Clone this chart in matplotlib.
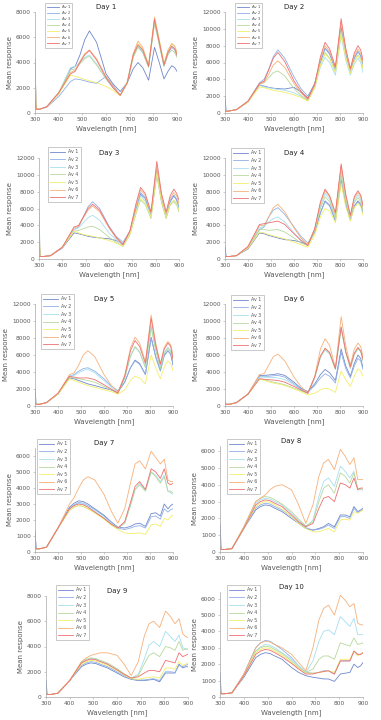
import matplotlib
matplotlib.use("Agg")
import matplotlib.pyplot as plt

W = [300, 305, 320, 350, 400, 450, 470, 490, 510, 530, 560, 600, 630, 660, 690, 715, 735, 755, 780, 805, 825, 845, 862, 878, 890, 900]
labels = ["Av 1", "Av 2", "Av 3", "Av 4", "Av 5", "Av 6", "Av 7"]
colors = ['#6f87cc', '#8fb0e6', '#a6dff0', '#b6d89c', '#f2ee6a', '#f6b07a', '#ee7070']

day1 = [
    [300, 300, 300, 500, 1500, 3500, 3700, 4600, 5800, 6500, 5600, 3100, 2300, 1700, 2400, 3500, 4000, 3600, 2600, 5200, 4000, 2700, 3300, 3750, 3600, 3300],
    [4300, 300, 300, 450, 1300, 2500, 2700, 2650, 2550, 2450, 2350, 2900, 2200, 1400, 2500, 4500, 5300, 4800, 3700, 7200, 5500, 3700, 4700, 5200, 5000, 4500],
    [4000, 300, 300, 500, 1600, 3600, 3700, 4000, 4400, 4600, 3900, 2700, 2000, 1400, 2400, 4500, 5300, 4900, 3700, 7300, 5600, 3800, 4800, 5300, 5100, 4600],
    [3800, 300, 300, 500, 1600, 3400, 3500, 3900, 4300, 4500, 3800, 2700, 2000, 1400, 2400, 4400, 5200, 4800, 3600, 7100, 5400, 3700, 4600, 5000, 4800, 4400],
    [300, 300, 300, 500, 1500, 3000, 2900, 2800, 2650, 2550, 2400, 2100, 1800, 1350, 2500, 4600, 5500, 5100, 3800, 7500, 5800, 3900, 4900, 5500, 5300, 4800],
    [4300, 300, 300, 500, 1600, 3200, 3400, 4100, 4700, 5000, 4300, 2900, 2100, 1400, 2400, 4700, 5700, 5200, 3800, 7600, 5800, 3900, 5000, 5500, 5300, 4800],
    [1000, 300, 300, 500, 1600, 3100, 3300, 4000, 4600, 4950, 4200, 2800, 2000, 1400, 2400, 4600, 5400, 5000, 3700, 7400, 5600, 3800, 4800, 5300, 5100, 4600],
]
day2 = [
    [2000, 200, 250, 400, 1300, 3300, 3200, 3050, 2950, 2900, 2850, 3050, 2500, 1800, 3500, 6000, 7700, 7000, 5200, 10200, 7000, 5000, 6500, 7300, 6800, 5800],
    [300, 200, 250, 400, 1400, 3600, 4000, 5200, 6700, 7500, 6500, 4300, 2900, 2000, 3500, 6200, 7700, 7100, 5200, 10000, 7000, 5000, 6600, 7300, 6800, 5700],
    [300, 200, 250, 400, 1400, 3300, 3100, 3000, 2900, 2800, 2700, 2400, 2000, 1500, 3000, 5500, 6600, 6000, 4500, 9200, 6300, 4500, 5800, 6500, 6000, 4800],
    [300, 200, 250, 400, 1400, 3400, 3600, 4200, 4800, 5000, 4400, 2900, 2100, 1500, 3000, 5800, 7200, 6500, 4900, 9700, 6700, 4800, 6200, 6900, 6400, 5400],
    [300, 200, 250, 400, 1300, 3100, 3000, 2850, 2700, 2600, 2450, 2150, 1850, 1400, 3000, 5700, 7000, 6400, 4800, 9500, 6600, 4700, 6100, 6800, 6300, 5300],
    [300, 200, 250, 400, 1400, 3400, 3700, 4600, 5700, 6200, 5400, 3500, 2400, 1600, 3300, 6400, 8000, 7300, 5300, 10800, 7400, 5100, 6800, 7600, 7100, 6000],
    [300, 200, 250, 400, 1400, 3500, 3800, 5100, 6500, 7200, 6100, 3800, 2600, 1700, 3400, 6700, 8400, 7600, 5500, 11200, 7700, 5300, 7100, 8000, 7500, 6300],
]
day3 = [
    [2000, 300, 300, 400, 1300, 3100, 3000, 2850, 2700, 2600, 2500, 2400, 2200, 1800, 3200, 5800, 7700, 7200, 5200, 10500, 7000, 5000, 6800, 7500, 7000, 6000],
    [300, 300, 300, 400, 1400, 3500, 3800, 5000, 6200, 6800, 6000, 3900, 2700, 2000, 3300, 5900, 7900, 7300, 5300, 10700, 7200, 5200, 7000, 7600, 7100, 6100],
    [6000, 300, 300, 400, 1400, 3500, 3700, 4300, 4900, 5200, 4600, 3100, 2300, 1600, 3000, 5500, 7500, 6900, 5000, 10000, 6800, 4900, 6500, 7000, 6600, 5700],
    [3000, 300, 300, 400, 1400, 3300, 3400, 3600, 3800, 3900, 3500, 2600, 2000, 1500, 2900, 5300, 7000, 6500, 4800, 10000, 6700, 4800, 6400, 6800, 6400, 5600],
    [300, 300, 300, 400, 1400, 3300, 3100, 2900, 2800, 2700, 2500, 2200, 1900, 1500, 3000, 5500, 7200, 6700, 5000, 10300, 6900, 5000, 6500, 7000, 6600, 5800],
    [4500, 300, 300, 400, 1400, 3700, 3900, 4900, 5800, 6300, 5600, 3700, 2500, 1700, 3300, 6200, 8200, 7600, 5400, 11000, 7500, 5400, 7200, 7900, 7500, 6600],
    [300, 300, 300, 400, 1400, 3800, 4000, 5000, 6000, 6500, 5800, 3800, 2600, 1700, 3400, 6500, 8500, 7800, 5600, 11600, 7800, 5600, 7500, 8300, 7800, 7000],
]
day4 = [
    [1500, 300, 300, 400, 1200, 3100, 3000, 2800, 2650, 2500, 2300, 2200, 2000, 1700, 3200, 5500, 6900, 6400, 4600, 9300, 6500, 4700, 6300, 6900, 6500, 5600],
    [300, 300, 300, 400, 1300, 3500, 3800, 5000, 5800, 6100, 5300, 3800, 2700, 1900, 3200, 5500, 6800, 6300, 4500, 9500, 6500, 4600, 6200, 6800, 6400, 5500],
    [300, 300, 300, 400, 1400, 3700, 3900, 4400, 4800, 5000, 4400, 3100, 2300, 1700, 3500, 6300, 7800, 7100, 5000, 10500, 7200, 5000, 6900, 7600, 7100, 6000],
    [300, 300, 300, 400, 1400, 3500, 3500, 3400, 3450, 3500, 3200, 2500, 1900, 1600, 3300, 6000, 7400, 6800, 4800, 10000, 6900, 4900, 6700, 7300, 6800, 5800],
    [300, 300, 300, 400, 1300, 3200, 3100, 2900, 2750, 2600, 2400, 2000, 1700, 1400, 2800, 5000, 6000, 5700, 4300, 9000, 6200, 4500, 6100, 6600, 6200, 5200],
    [300, 300, 300, 400, 1400, 4000, 4000, 5000, 6100, 6500, 5600, 3700, 2500, 1700, 3600, 6600, 8100, 7400, 5300, 11000, 7500, 5100, 7200, 7900, 7400, 6200],
    [300, 300, 300, 400, 1500, 4100, 4200, 4300, 4400, 4500, 4100, 3000, 2200, 1600, 3600, 6800, 8300, 7500, 5500, 11300, 7700, 5200, 7400, 8100, 7600, 6400],
]
day5 = [
    [2000, 200, 200, 400, 1400, 3300, 3200, 3000, 2800, 2600, 2400, 2100, 1900, 1600, 2800, 4500, 5400, 5000, 3700, 8100, 5800, 4200, 6000, 6500, 6100, 4800],
    [300, 200, 200, 400, 1400, 3500, 3700, 4100, 4400, 4500, 4100, 3200, 2400, 1800, 2800, 4500, 5300, 4900, 3700, 8000, 5700, 4100, 5900, 6500, 6100, 5000],
    [300, 200, 200, 400, 1400, 3500, 3600, 3900, 4200, 4300, 3900, 3000, 2200, 1600, 3300, 5800, 6900, 6300, 4600, 9500, 6700, 4600, 6300, 6900, 6500, 5600],
    [300, 200, 200, 400, 1400, 3400, 3300, 3200, 3100, 3000, 2800, 2300, 1900, 1500, 3300, 5900, 7000, 6400, 4500, 9200, 6500, 4400, 6200, 6800, 6400, 5500],
    [300, 200, 200, 400, 1400, 3200, 3000, 2800, 2600, 2400, 2200, 1900, 1700, 1400, 1900, 3000, 3500, 3300, 2600, 6000, 4500, 3200, 4600, 5300, 5000, 4200],
    [300, 200, 200, 400, 1500, 3700, 3900, 4800, 6000, 6500, 5800, 3700, 2500, 1600, 3600, 6800, 8100, 7400, 5200, 10700, 7400, 5000, 6900, 7600, 7200, 6000],
    [300, 200, 200, 400, 1500, 3500, 3400, 3300, 3300, 3300, 3100, 2500, 2000, 1500, 3500, 6500, 7700, 7000, 5000, 10300, 7100, 4900, 6700, 7400, 7000, 5500],
]
day6 = [
    [500, 200, 200, 400, 1400, 3600, 3600, 3650, 3700, 3800, 3600, 2800, 2100, 1700, 2600, 3700, 4300, 3900, 3000, 6700, 4700, 3500, 5000, 6000, 5600, 4500],
    [300, 200, 200, 400, 1400, 3500, 3500, 3500, 3550, 3600, 3400, 2600, 2000, 1600, 2400, 3300, 3800, 3500, 2700, 6300, 4400, 3300, 4700, 5600, 5300, 4300],
    [300, 200, 200, 400, 1400, 3400, 3400, 3350, 3350, 3300, 3100, 2500, 1900, 1500, 3300, 5700, 6600, 6100, 4300, 9100, 6300, 4400, 6000, 6700, 6400, 5300],
    [300, 200, 200, 400, 1400, 3200, 3100, 2950, 2800, 2700, 2500, 2100, 1800, 1500, 3300, 5800, 6700, 6200, 4300, 9200, 6300, 4500, 6100, 6800, 6400, 5400],
    [300, 200, 200, 400, 1400, 3200, 3000, 2850, 2700, 2600, 2400, 2000, 1700, 1300, 1500, 1900, 2100, 2000, 1600, 4100, 3100, 2300, 3500, 4400, 4100, 3500],
    [300, 200, 200, 400, 1400, 3700, 3800, 4800, 5800, 6100, 5300, 3400, 2300, 1500, 3500, 6700, 7900, 7100, 4500, 10500, 7100, 4800, 6700, 7400, 7000, 5800],
    [300, 200, 200, 400, 1400, 3200, 3150, 3100, 3050, 3000, 2800, 2300, 1900, 1500, 3400, 5900, 6800, 6300, 4400, 9300, 6400, 4600, 6200, 6900, 6500, 5500],
]
day7 = [
    [1300, 200, 200, 300, 1500, 2800, 3050, 3200, 3150, 3000, 2700, 2300, 1900, 1550, 1500, 1600, 1750, 1800, 1600, 2400, 2450, 2250, 3000, 2700, 2900, 3000],
    [1300, 200, 200, 300, 1500, 2700, 2950, 3100, 3050, 2900, 2650, 2250, 1850, 1500, 1400, 1500, 1600, 1650, 1500, 2200, 2250, 2050, 2700, 2500, 2650, 2700],
    [300, 200, 200, 300, 1500, 2700, 2900, 3050, 3000, 2850, 2550, 2150, 1800, 1500, 1800, 2900, 3900, 4300, 3900, 5000, 4800, 4400, 4800, 3800, 3700, 3600],
    [300, 200, 200, 300, 1500, 2600, 2800, 2900, 2850, 2700, 2450, 2100, 1750, 1500, 1800, 2900, 3900, 4200, 3800, 5000, 4700, 4300, 4700, 3800, 3800, 3700],
    [300, 200, 200, 300, 1500, 2600, 2800, 2900, 2850, 2700, 2450, 2050, 1700, 1400, 1200, 1150, 1150, 1200, 1100, 1700, 1750, 1600, 2100, 2000, 2200, 2300],
    [300, 200, 200, 300, 1500, 3000, 3400, 4000, 4500, 4700, 4500, 3600, 2600, 1800, 2700, 4300, 5500, 5700, 5200, 6300, 5900, 5500, 5800, 4500, 4400, 4400],
    [300, 200, 200, 300, 1500, 2700, 2900, 3000, 2950, 2800, 2500, 2100, 1750, 1500, 1900, 3100, 4100, 4400, 3900, 5200, 5000, 4600, 5200, 4300, 4200, 4300],
]
day8 = [
    [1700, 150, 150, 200, 1400, 2500, 2700, 2800, 2750, 2600, 2400, 2000, 1700, 1400, 1300, 1400, 1500, 1700, 1500, 2200, 2200, 2100, 2700, 2400, 2500, 2600],
    [300, 150, 150, 200, 1400, 2600, 2800, 2900, 2850, 2700, 2500, 2100, 1750, 1450, 1300, 1350, 1450, 1600, 1400, 2100, 2100, 2000, 2600, 2350, 2450, 2500],
    [300, 150, 150, 200, 1400, 2900, 3100, 3200, 3150, 3000, 2800, 2300, 1900, 1500, 1900, 3300, 4200, 4400, 3900, 5100, 4800, 4400, 4800, 3700, 3700, 3700],
    [300, 150, 150, 200, 1500, 3000, 3200, 3300, 3250, 3100, 2850, 2400, 1950, 1550, 1800, 3000, 3800, 4000, 3500, 4700, 4500, 4100, 4700, 3800, 3750, 3700],
    [300, 150, 150, 200, 1400, 2700, 2900, 3000, 2950, 2800, 2550, 2100, 1700, 1400, 1200, 1200, 1300, 1400, 1200, 1900, 1950, 1900, 2400, 2300, 2400, 2500],
    [300, 150, 150, 200, 1500, 3000, 3200, 3400, 3700, 3900, 4000, 3700, 2800, 1700, 2800, 4500, 5300, 5500, 4900, 6100, 5700, 5200, 5600, 4300, 4300, 4300],
    [300, 150, 150, 200, 1400, 2800, 3000, 3100, 3050, 2900, 2700, 2200, 1800, 1500, 1700, 2600, 3200, 3300, 3000, 4100, 4000, 3800, 4400, 3700, 3800, 3800],
]
day9 = [
    [1300, 200, 200, 300, 1300, 2400, 2600, 2700, 2650, 2500, 2300, 1900, 1600, 1400, 1300, 1300, 1350, 1400, 1200, 1900, 1900, 1900, 2600, 2300, 2400, 2400],
    [300, 200, 200, 300, 1300, 2500, 2700, 2800, 2750, 2600, 2400, 2000, 1700, 1450, 1350, 1350, 1400, 1450, 1300, 2000, 2000, 1950, 2500, 2400, 2500, 2600],
    [300, 200, 200, 300, 1300, 2700, 2900, 3050, 3000, 2850, 2600, 2200, 1800, 1500, 1800, 3000, 4100, 4400, 4000, 5200, 4800, 4400, 4900, 3900, 3800, 3800],
    [300, 200, 200, 300, 1300, 2800, 3000, 3100, 3050, 2900, 2700, 2250, 1850, 1500, 1700, 2600, 3300, 3500, 3200, 4000, 3900, 3700, 4400, 3700, 3800, 3800],
    [300, 200, 200, 300, 1300, 2600, 2800, 2900, 2850, 2700, 2500, 2100, 1750, 1450, 1400, 1500, 1550, 1600, 1500, 2300, 2300, 2200, 2800, 2500, 2600, 2700],
    [300, 200, 200, 300, 1300, 2800, 3100, 3300, 3400, 3500, 3500, 3300, 2600, 1700, 2800, 4800, 5800, 6000, 5500, 6800, 6400, 5800, 6200, 5000, 4800, 4700],
    [300, 200, 200, 300, 1300, 2700, 2900, 3000, 2950, 2800, 2600, 2150, 1800, 1500, 1600, 1900, 2100, 2100, 2000, 2900, 2800, 2700, 3500, 3200, 3300, 3400],
]
day10 = [
    [1500, 200, 200, 250, 1200, 2400, 2600, 2700, 2650, 2500, 2300, 1800, 1500, 1300, 1200, 1150, 1100, 1100, 950, 1400, 1450, 1500, 2000, 1800, 1900, 2100],
    [300, 200, 200, 250, 1400, 3000, 3300, 3450, 3400, 3200, 2900, 2400, 1900, 1500, 1450, 1500, 1600, 1600, 1400, 2200, 2200, 2200, 2800, 2600, 2600, 2700],
    [300, 200, 200, 250, 1300, 2800, 3050, 3200, 3150, 3000, 2700, 2300, 1900, 1500, 2200, 3400, 4000, 4100, 3800, 4900, 4600, 4300, 4800, 3800, 3800, 3800],
    [300, 200, 200, 250, 1300, 2800, 3000, 3100, 3050, 2900, 2650, 2200, 1800, 1500, 1700, 2300, 2500, 2500, 2300, 3300, 3200, 3100, 3600, 3200, 3250, 3300],
    [300, 200, 200, 250, 1300, 2700, 2900, 3000, 2950, 2800, 2550, 2100, 1750, 1450, 1450, 1500, 1550, 1600, 1500, 2300, 2300, 2300, 2800, 2500, 2600, 2700],
    [300, 200, 200, 250, 1400, 3000, 3300, 3400, 3350, 3200, 3000, 2600, 2100, 1600, 3000, 4700, 5400, 5600, 5000, 6200, 5900, 5500, 5700, 4500, 4400, 4400],
    [300, 200, 200, 250, 1300, 2600, 2800, 2900, 2850, 2700, 2450, 2050, 1700, 1400, 1400, 1500, 1550, 1600, 1400, 2200, 2200, 2200, 2800, 2600, 2600, 2700],
]

days = [day1, day2, day3, day4, day5, day6, day7, day8, day9, day10]
titles = ["Day %d" % i for i in range(1, 11)]
yticks_list = [
    [0, 2000, 4000, 6000, 8000],
    [0, 2000, 4000, 6000, 8000, 10000, 12000],
    [0, 2000, 4000, 6000, 8000, 10000, 12000],
    [0, 2000, 4000, 6000, 8000, 10000, 12000],
    [0, 2000, 4000, 6000, 8000, 10000, 12000],
    [0, 2000, 4000, 6000, 8000, 10000, 12000],
    [0, 1000, 2000, 3000, 4000, 5000, 6000],
    [0, 1000, 2000, 3000, 4000, 5000, 6000],
    [0, 2000, 4000, 6000, 8000],
    [0, 1000, 2000, 3000, 4000, 5000, 6000],
]
xticks = [300, 400, 500, 600, 700, 800, 900]

FW, FH = 381, 720
fig = plt.figure(figsize=(FW / 100, FH / 100), dpi=100)

# axes boxes in pixels: left, right, top, bottom, ymax
boxes = [
    (35, 177, 12, 113, 8000),
    (225, 363, 12, 113, 12000),
    (39, 179, 158, 259, 12000),
    (225, 363, 158, 259, 12000),
    (35, 173, 304, 406, 12000),
    (225, 363, 304, 406, 12000),
    (35, 173, 448, 552, 6500),
    (220, 363, 446, 552, 6300),
    (46, 188, 596, 697, 8000),
    (220, 363, 592, 697, 6400),
]
# legend upper-left corner in pixels, and font size
legs = [
    (45, 3, 2.8), (235, 3, 2.8), (48, 147, 3.4), (231, 148, 3.4), (41, 294, 3.4),
    (231, 295, 3.4), (37, 439, 3.4), (227, 439, 3.4), (56, 585, 3.4), (227, 585, 3.4),
]

gray = '#595959'
spine = '#a6a6a6'
for i, data in enumerate(days):
    l, r, t, b, ymax = boxes[i]
    ax = fig.add_axes([l / FW, 1 - b / FH, (r - l) / FW, (b - t) / FH])
    for j, series in enumerate(data):
        ax.plot(W, series, color=colors[j], lw=0.6, label=labels[j])
    ax.set_xlim(300, 900)
    ax.set_ylim(0, ymax)
    ax.set_xticks(xticks)
    ax.set_yticks(yticks_list[i])
    for s in ['top', 'right']:
        ax.spines[s].set_visible(False)
    for s in ['left', 'bottom']:
        ax.spines[s].set_color(spine)
        ax.spines[s].set_linewidth(0.5)
    ax.tick_params(axis='both', labelsize=4.2, colors=spine, labelcolor=gray,
                   length=1.5, width=0.4, pad=1.5)
    ax.set_xlabel("Wavelength [nm]", fontsize=5, color=gray, labelpad=2)
    ax.set_ylabel("Mean response", fontsize=5, color=gray, labelpad=2)
    ax.set_title(titles[i], fontsize=5, color='#222222', pad=2)
    lx, ly, fs = legs[i]
    leg = ax.legend(loc='upper left', bbox_to_anchor=(lx / FW, 1 - ly / FH),
                    bbox_transform=fig.transFigure, fontsize=fs, frameon=True,
                    fancybox=False, handlelength=3.2, handletextpad=0.6,
                    labelspacing=0.55, borderpad=0.5, borderaxespad=0)
    leg.get_frame().set_edgecolor('#a0a0a0')
    leg.get_frame().set_linewidth(0.5)
    for txt in leg.get_texts():
        txt.set_color(gray)
        txt.set_ha('right')

fig.savefig("out.png", dpi=100)
